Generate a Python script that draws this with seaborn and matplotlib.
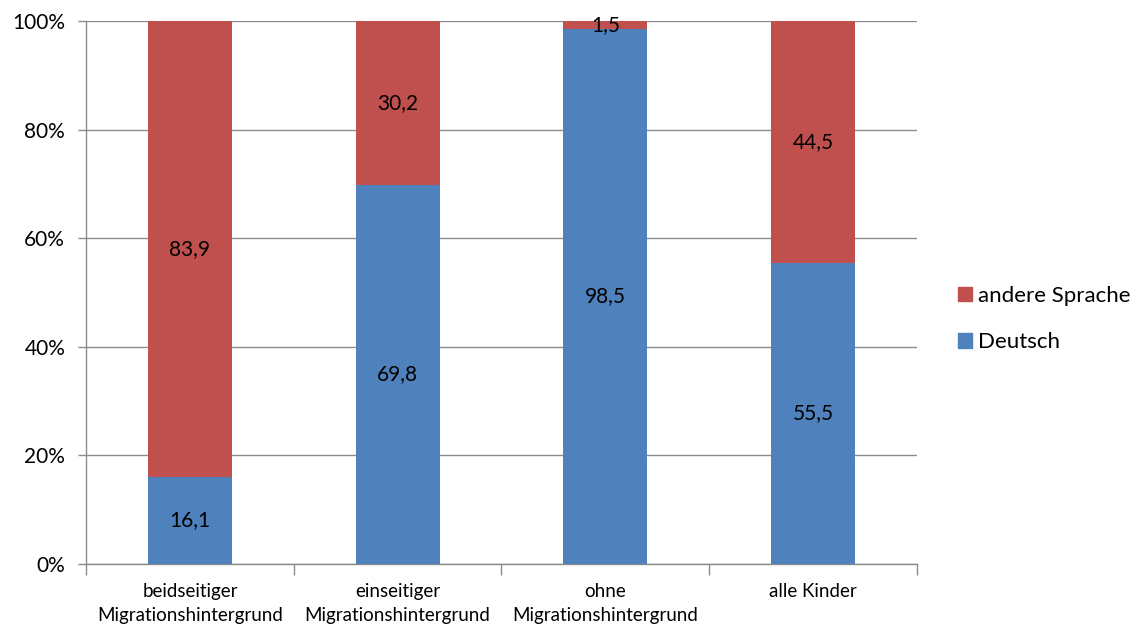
import numpy as np
import pandas as pd
import matplotlib
matplotlib.use('Agg')
import matplotlib.pyplot as plt
import seaborn as sns
from matplotlib.patches import Patch

# data
categories = ['beidseitiger\nMigrationshintergrund', 'einseitiger\nMigrationshintergrund',
              'ohne\nMigrationshintergrund', 'alle Kinder']
deutsch = [16.1, 69.8, 98.5, 55.5]
andere = [83.9, 30.2, 1.5, 44.5]

blue = '#4F81BD'
red = '#C0504D'
grid_col = '#8C8C8C'

sns.set_style('white')
plt.rcParams['font.family'] = ['Lato', 'DejaVu Sans']
plt.rcParams['text.color'] = 'black'
plt.rcParams['xtick.labelcolor'] = 'black'
plt.rcParams['ytick.labelcolor'] = 'black'

df = pd.DataFrame({'Kategorie': categories, 'Deutsch': deutsch, 'andere': andere})
df['total'] = df['Deutsch'] + df['andere']

fig = plt.figure(figsize=(11.37, 6.27), dpi=100)
ax = fig.add_axes([86 / 1137, 1 - 564 / 627, (917 - 86) / 1137, (564 - 21) / 627])

# stacked: red full bar first, blue over it
sns.barplot(data=df, x='Kategorie', y='total', color=red, width=0.405, saturation=1,
            linewidth=0, ax=ax, zorder=2)
sns.barplot(data=df, x='Kategorie', y='Deutsch', color=blue, width=0.405, saturation=1,
            linewidth=0, ax=ax, zorder=3)

# value labels in the middle of each segment
for i, (d, a) in enumerate(zip(deutsch, andere)):
    ax.text(i, d / 2, f'{d:.1f}'.replace('.', ','), ha='center', va='center', fontsize=15, zorder=5)
    ax.text(i, d + a / 2, f'{a:.1f}'.replace('.', ','), ha='center', va='center', fontsize=15, zorder=5)

ax.set_xlim(-0.5, 3.5)
ax.set_ylim(0, 100)
ax.set_yticks(np.arange(0, 101, 20))
ax.set_yticklabels([f'{v}%' for v in range(0, 101, 20)], fontsize=15)
ax.yaxis.grid(True, color=grid_col, linewidth=1)
ax.set_axisbelow(True)

# x ticks between categories, labels centered
ax.set_xticks(np.arange(-0.5, 3.6, 1))
ax.set_xticklabels([])
ax.set_xticks(np.arange(4), minor=True)
ax.set_xticklabels(categories, minor=True, fontsize=13.5, linespacing=1.5)
ax.tick_params(axis='x', which='major', length=8, color=grid_col, width=1, direction='out', bottom=True)
ax.tick_params(axis='x', which='minor', length=0, pad=14)
ax.tick_params(axis='y', length=6, color=grid_col, width=1, direction='out', left=True, pad=9)
ax.set_xlabel('')
ax.set_ylabel('')

for s in ['top', 'right']:
    ax.spines[s].set_visible(False)
for s in ['left', 'bottom']:
    ax.spines[s].set_color(grid_col)
    ax.spines[s].set_linewidth(1)

handles = [Patch(color=red, label='andere Sprache'), Patch(color=blue, label='Deutsch')]
fig.legend(handles=handles, loc='center left', bbox_to_anchor=(958 / 1137, 1 - 319 / 627),
           frameon=False, fontsize=16, handlelength=0.62, handleheight=0.62,
           handletextpad=0.3, labelspacing=1.2, borderaxespad=0, borderpad=0)

fig.savefig('out.png', dpi=100)
